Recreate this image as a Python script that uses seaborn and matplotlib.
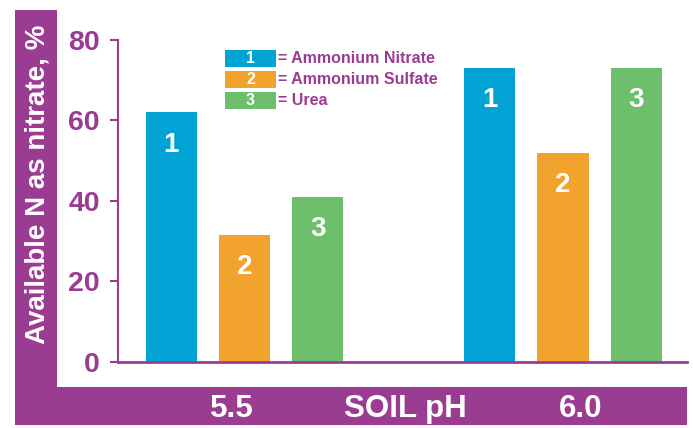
import pandas as pd
import seaborn as sns
import matplotlib.pyplot as plt
from matplotlib.patches import Rectangle

# values
soil_ph = ["5.5", "5.5", "5.5", "6.0", "6.0", "6.0"]
fertilizer = ["1", "2", "3", "1", "2", "3"]
nitrate_pct = [62, 31.5, 41, 73, 52, 73]

legend_keys = ["1", "2", "3"]
legend_names = ["Ammonium Nitrate", "Ammonium Sulfate", "Urea"]
y_ticks = [0, 20, 40, 60, 80]

PURPLE = "#9B3C93"
palette = {"1": "#00A3D3", "2": "#F2A32D", "3": "#6DBF6B"}

df = pd.DataFrame({"ph": soil_ph, "fert": fertilizer, "value": nitrate_pct})

sns.set_style("white")
plt.rcParams["font.family"] = ["Liberation Sans", "DejaVu Sans"]
plt.rcParams["font.weight"] = "bold"

fig = plt.figure(figsize=(6.93, 4.28), dpi=100)

# purple frame on the left and bottom
fig.patches.append(Rectangle((0.0216, 0.007), 0.0606, 0.9696, transform=fig.transFigure,
                             facecolor=PURPLE, edgecolor="none", zorder=0))
fig.patches.append(Rectangle((0.0216, 0.007), 0.9697, 0.0888, transform=fig.transFigure,
                             facecolor=PURPLE, edgecolor="none", zorder=0))

ax = fig.add_axes([0.1703, 0.155, 0.821, 0.7516])
ax.patch.set_alpha(0)

sns.barplot(data=df, x="ph", y="value", hue="fert", palette=palette, saturation=1,
            width=0.69, gap=0.30, linewidth=0, legend=False, ax=ax)

# numbers inside the bars
for cont, key in zip(ax.containers, legend_keys):
    for bar in cont:
        ax.text(bar.get_x() + bar.get_width() / 2, bar.get_height() - 8, key,
                ha="center", va="center", color="white", fontsize=20, fontweight="bold")

ax.set_xlim(-0.397, 1.389)
ax.set_ylim(0, 80)
ax.set_yticks(y_ticks, [str(t) for t in y_ticks], fontsize=20.5, fontweight="bold", color=PURPLE)
ax.set_xticks([])
ax.set_xlabel("")
ax.set_ylabel("")
ax.tick_params(axis="y", colors=PURPLE, length=6, width=1.5, pad=7, left=True)
for side in ["top", "right"]:
    ax.spines[side].set_visible(False)
ax.spines["left"].set_color(PURPLE)
ax.spines["left"].set_linewidth(1.5)
ax.spines["bottom"].set_color(PURPLE)
ax.spines["bottom"].set_linewidth(2)

# manual legend with numbered boxes
box_x, box_w, box_h = 225 / 693, 51 / 693, 17 / 428
for i, (key, name) in enumerate(zip(legend_keys, legend_names)):
    top = 50 + i * 21
    y0 = 1 - (top + 17) / 428
    fig.patches.append(Rectangle((box_x, y0), box_w, box_h, transform=fig.transFigure,
                                 facecolor=palette[key], edgecolor="none", zorder=3))
    fig.text(box_x + box_w / 2, y0 + box_h / 2, key, ha="center", va="center",
             color="white", fontsize=11.5, fontweight="bold", zorder=4)
    fig.text(278 / 693, y0 + box_h / 2, "= " + name, ha="left", va="center",
             color=PURPLE, fontsize=11.5, fontweight="bold", zorder=4)

# axis titles on the purple frame
fig.text(0.054, 0.57, "Available N as nitrate, %", rotation=90, ha="center", va="center",
         color="white", fontsize=20, fontweight="bold")
for label, xpix in [("5.5", 231.5), ("SOIL pH", 405), ("6.0", 581)]:
    fig.text(xpix / 693, 0.045, label, ha="center", va="center", color="white",
             fontsize=22.5, fontweight="bold")

fig.savefig("out.png", dpi=100)
